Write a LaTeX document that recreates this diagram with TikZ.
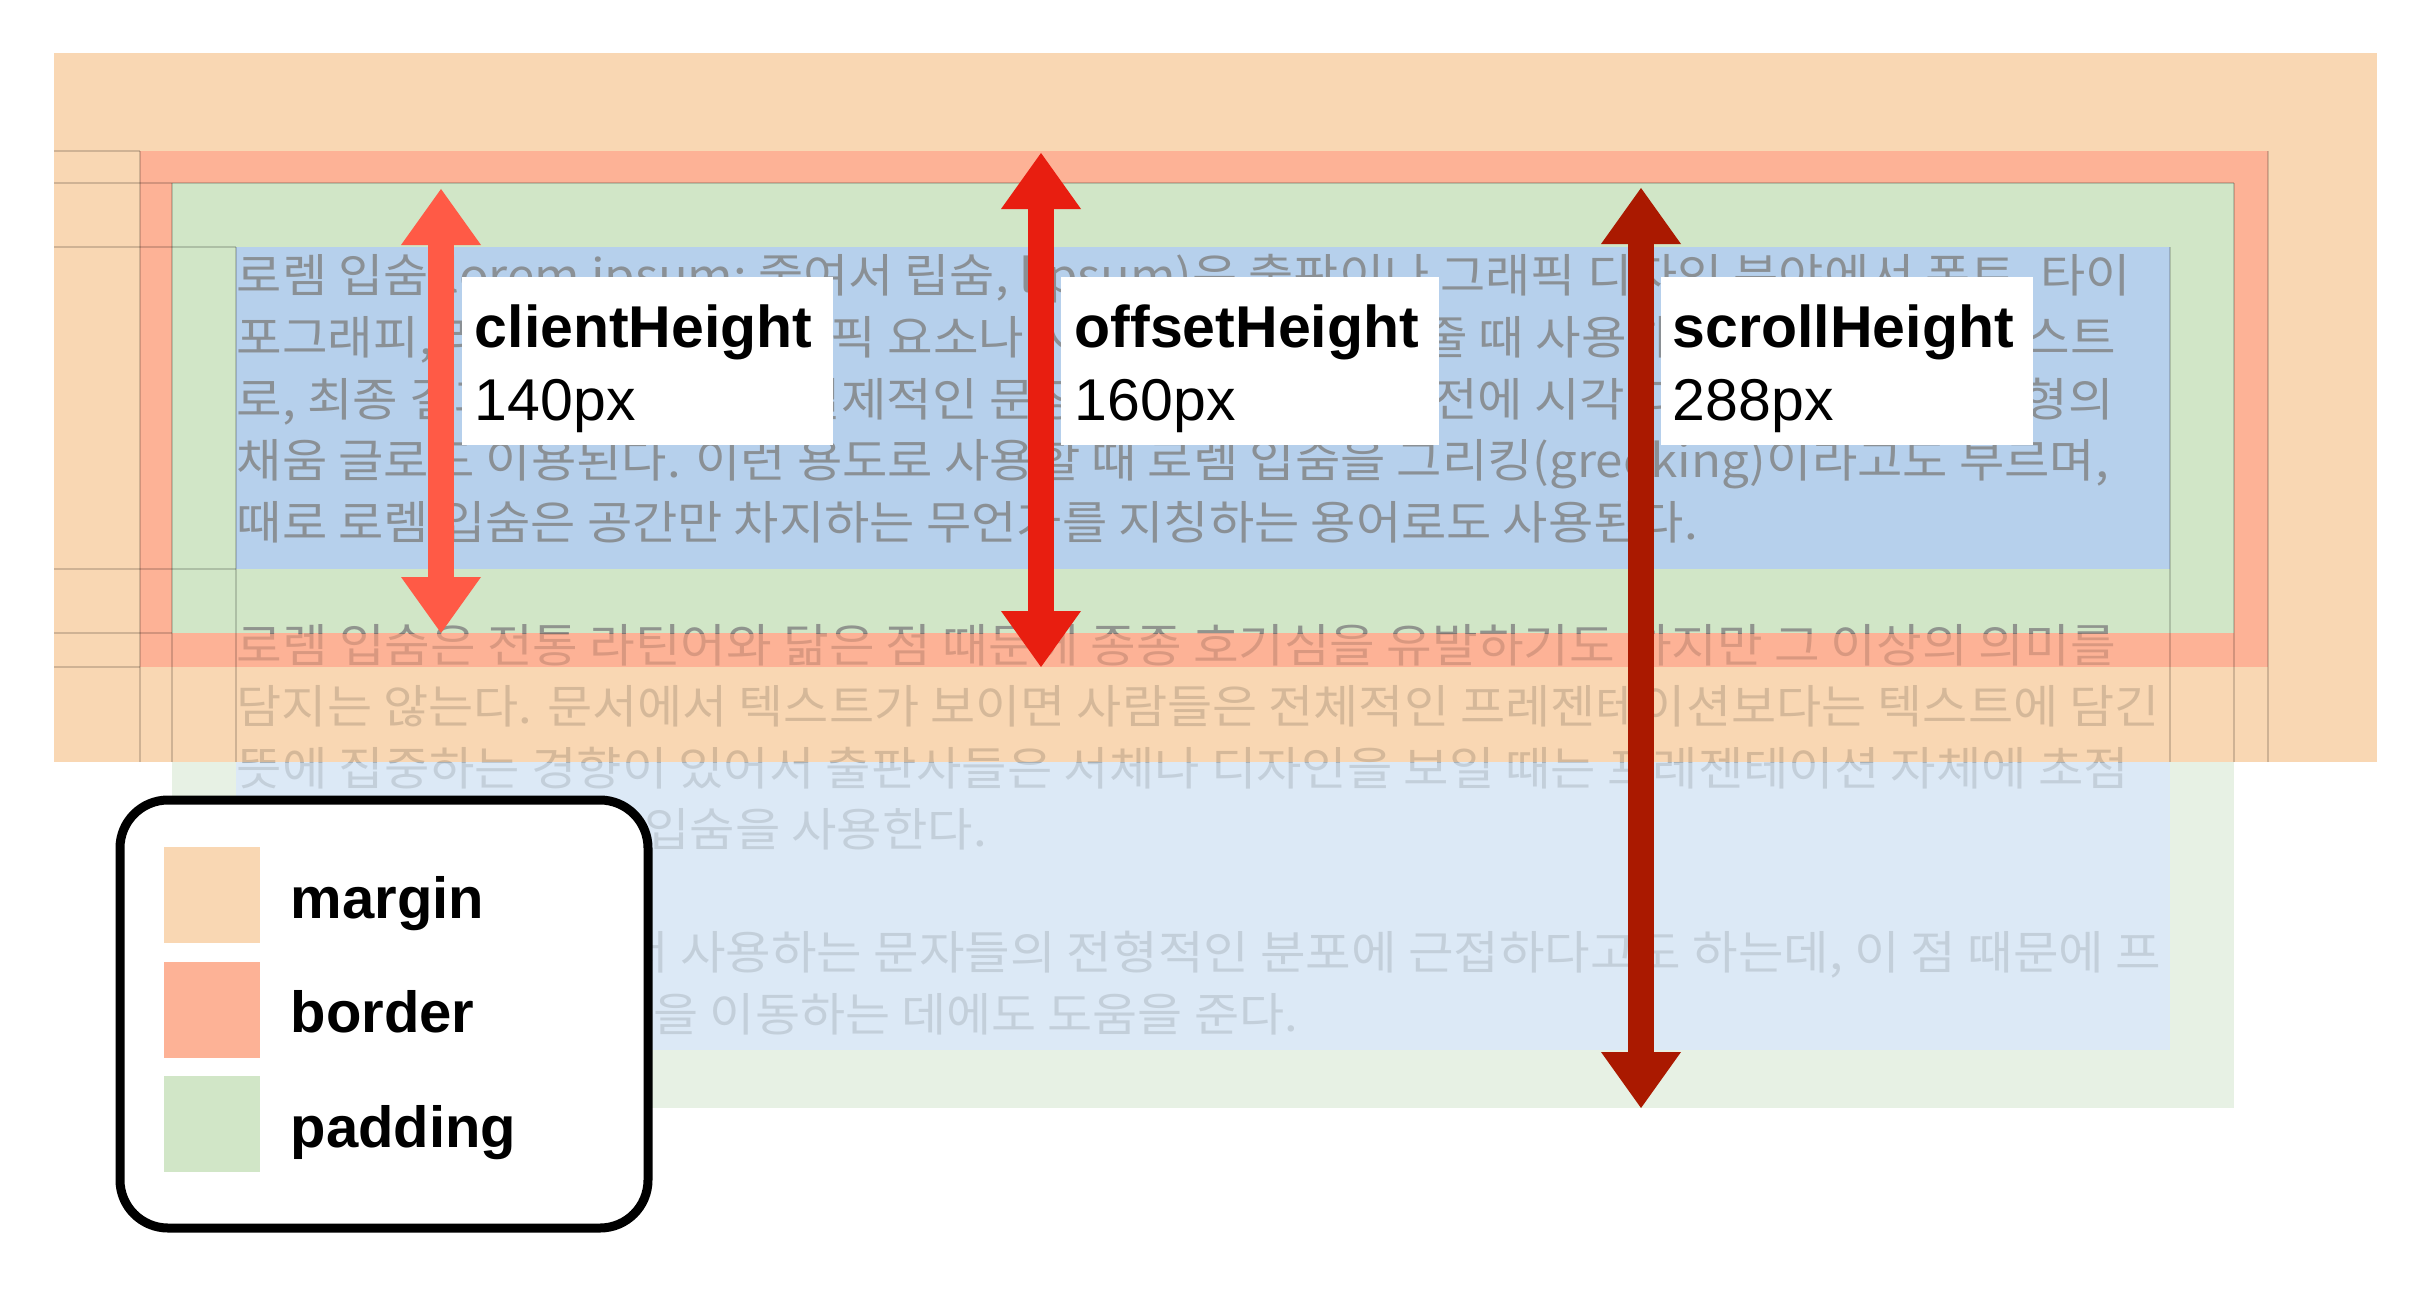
\documentclass[tikz,border=0pt]{standalone}
\usepackage{fontspec}
\setmainfont{Liberation Sans}
\newfontfamily\krfont{Noto Sans CJK KR}
\usepackage{graphicx}
\usetikzlibrary{arrows.meta}
\definecolor{cmargin}{HTML}{F9D7B3}
\definecolor{cborder}{HTML}{FDB296}
\definecolor{cpadding}{HTML}{D1E6C7}
\definecolor{ccontent}{HTML}{B6D0EC}
\definecolor{fpadding}{HTML}{E7F1E4}
\definecolor{fcontent}{HTML}{DCE9F6}
\definecolor{aclient}{HTML}{FF5A46}
\definecolor{aoffset}{HTML}{E81E10}
\definecolor{ascroll}{HTML}{AA1900}
\newlength\pxunit
\setlength\pxunit{0.25pt}
\newcommand\kline[4]{\node[loremline,loremcolor] (#1) at (236,{293+61.5*#2}) {\resizebox{#3\pxunit}{\height}{#4}};}
\newcommand\loremtext[1]{%
  \kline{#1l1}{0}{1894}{로렘 입숨(lorem ipsum; 줄여서 립숨, lipsum)은 출판이나 그래픽 디자인 분야에서 폰트, 타이}
  \kline{#1l2}{1}{1879}{포그래피, 레이아웃 같은 그래픽 요소나 시각적 연출을 보여줄 때 사용하는 표준 채우기 텍스트}
  \kline{#1l3}{2}{1877}{로, 최종 결과물에 들어가는 실제적인 문장 내용이 채워지기 전에 시각 디자인 프로젝트 모형의}
  \kline{#1l4}{3}{1872}{채움 글로도 이용된다. 이런 용도로 사용할 때 로렘 입숨을 그리킹(greeking)이라고도 부르며,}
  \kline{#1l5}{4}{1461}{때로 로렘 입숨은 공간만 차지하는 무언가를 지칭하는 용어로도 사용된다.}
  \kline{#1l6}{6}{1879}{로렘 입숨은 전통 라틴어와 닮은 점 때문에 종종 호기심을 유발하기도 하지만 그 이상의 의미를}
  \kline{#1l7}{7}{1923}{담지는 않는다. 문서에서 텍스트가 보이면 사람들은 전체적인 프레젠테이션보다는 텍스트에 담긴}
  \kline{#1l8}{8}{1892}{뜻에 집중하는 경향이 있어서 출판사들은 서체나 디자인을 보일 때는 프레젠테이션 자체에 초점}
  \kline{#1l9}{9}{750}{을 맞추기 위해 로렘 입숨을 사용한다.}
  \kline{#1l10}{11}{1924}{로렘 입숨은 영어에서 사용하는 문자들의 전형적인 분포에 근접하다고도 하는데, 이 점 때문에 프}
  \kline{#1l11}{12}{1061}{레젠테이션으로 초점을 이동하는 데에도 도움을 준다.}
}
\begin{document}
\begin{tikzpicture}[x=0.25pt,y=-0.25pt,
  loremline/.style={anchor=base west, inner sep=0pt, font=\fontsize{11.5pt}{13pt}\selectfont\krfont},
  loremcolor/.style={text=black!50, text opacity=0.8},
  guide/.style={draw=black, draw opacity=0.17, line width=0.5pt},
  dimarrow/.style={line width=6.5pt,
    {Triangle[width=20pt,length=14pt,line width=0pt]}-{Triangle[width=20pt,length=14pt,line width=0pt]}},
  labelbox/.style={fill=white, inner sep=0pt, anchor=north west, minimum height=168\pxunit},
  lbl/.style={anchor=base west, inner sep=0pt, font=\fontsize{14.75pt}{17pt}\selectfont},
  legtxt/.style={anchor=base west, inner sep=0pt, font=\fontsize{14.5pt}{17pt}\selectfont\bfseries},
  swatch/.style={inner sep=0pt, minimum size=96\pxunit},
  legendbox/.style={draw=black, line width=9\pxunit, fill=white, rounded corners=12pt,
    inner sep=0pt, anchor=north west, minimum width=528\pxunit, minimum height=428\pxunit}]
\useasboundingbox (0,0) rectangle (2436,1294);
\fill[white] (0,0) rectangle (2436,1294);
% faded overflow
\fill[fpadding] (172,762) rectangle (2234,1108);
\fill[fcontent] (236,762) rectangle (2170,1050);
% box model
\fill[cmargin] (54,53) rectangle (2377,762);
\fill[cborder] (140,151) rectangle (2268,667);
\fill[cpadding] (172,183) rectangle (2234,633);
\fill[ccontent] (236,247) rectangle (2170,569);
% guides
\draw[guide] (54,151) -- (140,151);
\draw[guide] (54,183) -- (2234,183);
\draw[guide] (54,247) -- (236,247);
\draw[guide] (54,569) -- (236,569);
\draw[guide] (54,633) -- (172,633);
\draw[guide] (54,667) -- (140,667);
\draw[guide] (140,151) -- (140,762);
\draw[guide] (172,183) -- (172,762);
\draw[guide] (236,247) -- (236,762);
\draw[guide] (2170,247) -- (2170,762);
\draw[guide] (2234,183) -- (2234,762);
\draw[guide] (2268,151) -- (2268,762);
% text, three tints
\begin{scope}
  \clip (0,0) rectangle (2436,633);
  \loremtext{a}
\end{scope}
\begin{scope}[loremcolor/.style={text=black, text opacity=0.14}]
  \clip (0,633) rectangle (2436,762);
  \loremtext{b}
\end{scope}
\begin{scope}[loremcolor/.style={text=black, text opacity=0.11}]
  \clip (0,762) rectangle (2436,1294);
  \loremtext{c}
\end{scope}
% arrows
\coordinate (chTop) at (441,189);
\coordinate (chBot) at (441,633);
\coordinate (ohTop) at (1041,153);
\coordinate (ohBot) at (1041,667);
\coordinate (shTop) at (1641,188);
\coordinate (shBot) at (1641,1108);
\draw[dimarrow, aclient] (chTop) -- (chBot);
\draw[dimarrow, aoffset] (ohTop) -- (ohBot);
\draw[dimarrow, ascroll] (shTop) -- (shBot);
% labels
\node[labelbox, minimum width=371\pxunit] (chBox) at (461,276) {};
\node[lbl] (chName) at (474,347) {\textbf{clientHeight}};
\node[lbl] (chVal) at (474,420) {140px};
\node[labelbox, minimum width=378\pxunit] (ohBox) at (1060,276) {};
\node[lbl] (ohName) at (1074,347) {\textbf{offsetHeight}};
\node[lbl] (ohVal) at (1074,420) {160px};
\node[labelbox, minimum width=372\pxunit] (shBox) at (1660,276) {};
\node[lbl] (shName) at (1672,347) {\textbf{scrollHeight}};
\node[lbl] (shVal) at (1672,420) {288px};
% legend
\node[legendbox] (legend) at (115.5,795.5) {};
\node[swatch, fill=cmargin] (swM) at (212,895) {};
\node[swatch, fill=cborder] (swB) at (212,1010) {};
\node[swatch, fill=cpadding] (swP) at (212,1124) {};
\node[legtxt] (txM) at (290,918) {margin};
\node[legtxt] (txB) at (290,1032) {border};
\node[legtxt] (txP) at (290,1147) {padding};
\end{tikzpicture}
\end{document}
